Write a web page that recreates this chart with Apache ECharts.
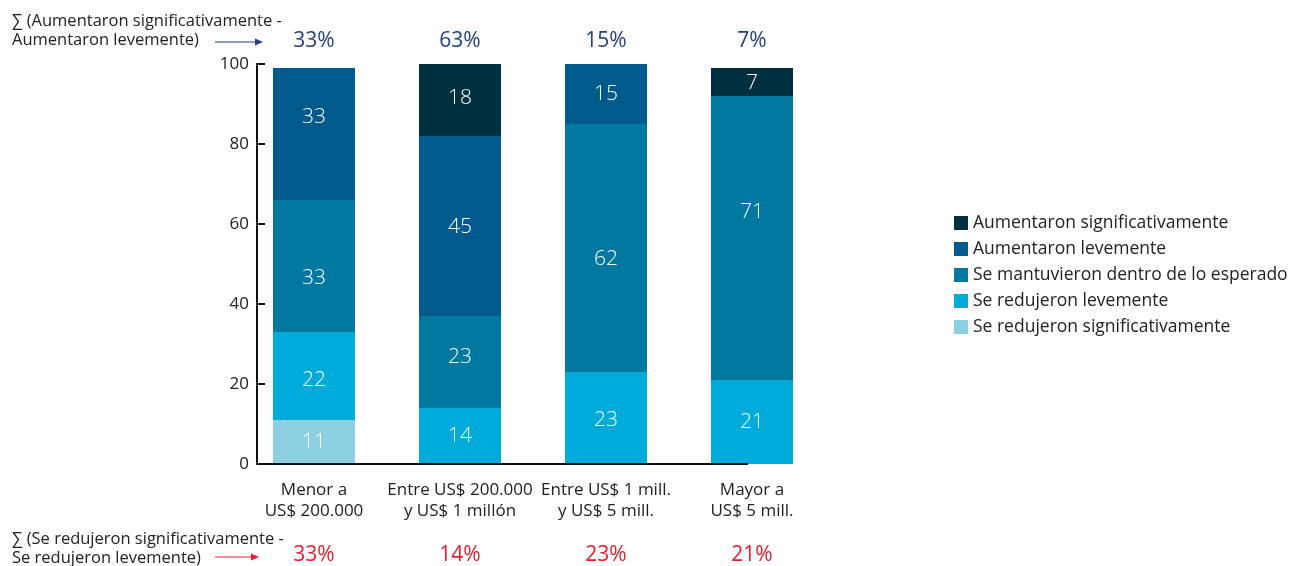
<!DOCTYPE html>
<html><head><meta charset="utf-8">
<script src="https://cdn.jsdelivr.net/npm/echarts@6/dist/echarts.min.js"></script>
<style>html,body{margin:0;padding:0;background:#fff}#c{width:1298px;height:566px}</style>
</head><body><div id="c"></div>
<script>
const categories = ['Menor a\nUS$ 200.000', 'Entre US$ 200.000\ny US$ 1 millón', 'Entre US$ 1 mill.\ny US$ 5 mill.', 'Mayor a\nUS$ 5 mill.'];
const seriesNames = ['Se redujeron significativamente', 'Se redujeron levemente', 'Se mantuvieron dentro de lo esperado', 'Aumentaron levemente', 'Aumentaron significativamente'];
const sigDown = [11, 0, 0, 0];
const levDown = [22, 14, 23, 21];
const same = [33, 23, 62, 71];
const levUp = [33, 45, 15, 0];
const sigUp = [0, 18, 0, 7];
const yTicks = [0, 20, 40, 60, 80, 100];
const colors = ['#8ccfe0', '#00aad9', '#00789f', '#005a8b', '#002f40'];

// label nudges (style only): [seriesIndex][categoryIndex] vertical offset in px
const labelNudge = [[0,0,0,0],[4,0,2,0],[12,-5,11,-26],[-17,1,0,0],[0,-2,0,1]];

const upSum = categories.map((_, i) => levUp[i] + sigUp[i]);
const downSum = categories.map((_, i) => sigDown[i] + levDown[i]);
const values = [sigDown, levDown, same, levUp, sigUp];
const FONT = 'Open Sans';

const chart = echarts.init(document.getElementById('c'), null, {renderer: 'canvas'});
const series = values.map((v, k) => ({
  name: seriesNames[k], type: 'bar', stack: 'a', barWidth: 82, xAxisIndex: 0,
  itemStyle: {color: colors[k]},
  label: {show: true, position: 'inside', color: '#fff', fontSize: 21, fontFamily: FONT, fontWeight: 300,
    formatter: p => p.value > 0 ? p.value : ''},
  data: v.map((x, i) => ({value: x === 0 ? null : x, label: {offset: [0, labelNudge[k][i]]}}))
}));

chart.setOption({
  animation: false,
  textStyle: {fontFamily: FONT},
  color: colors,
  grid: {left: 241, right: 473, top: 64, bottom: 102},
  legend: {
    orient: 'vertical', left: 949, top: 209, itemWidth: 14, itemHeight: 14, itemGap: 8,
    icon: 'rect', data: seriesNames.slice().reverse(),
    textStyle: {fontSize: 17.5, color: '#222', fontFamily: FONT}
  },
  xAxis: [
    {type: 'category', data: categories, position: 'bottom',
      axisLine: {show: false}, axisTick: {show: false},
      axisLabel: {interval: 0, fontSize: 17, lineHeight: 21, color: '#222', margin: 16, fontFamily: FONT}},
    {type: 'category', data: categories, position: 'top', gridIndex: 0,
      axisLine: {show: false}, axisTick: {show: false},
      axisLabel: {interval: 0, fontSize: 21, color: '#233f7c', margin: 12, fontFamily: FONT,
        formatter: (v, i) => upSum[i] + '%'}},
    {type: 'category', data: categories, position: 'bottom', offset: 0, gridIndex: 0,
      axisLine: {show: false}, axisTick: {show: false},
      axisLabel: {interval: 0, fontSize: 21, color: '#e5202e', margin: 81, fontFamily: FONT,
        formatter: (v, i) => downSum[i] + '%'}}
  ],
  yAxis: {
    type: 'value', min: 0, max: 100, interval: 20, offset: -16,
    axisLine: {show: true, lineStyle: {color: '#111', width: 2}},
    axisTick: {show: true, inside: true, length: 8, lineStyle: {color: '#111', width: 2}},
    splitLine: {show: false},
    axisLabel: {fontSize: 17, color: '#222', margin: 8, fontFamily: FONT,
      formatter: v => yTicks.includes(v) ? String(v) : ''}
  },
  graphic: [
    {type: 'line', shape: {x1: 257, y1: 464, x2: 748, y2: 464}, style: {stroke: '#111', lineWidth: 2}, z: 100},
    {type: 'text', left: 12, top: 12, style: {text: '∑ (Aumentaron significativamente -\nAumentaron levemente)', fontSize: 16.5, lineHeight: 19, fill: '#222', fontFamily: FONT}},
    {type: 'line', shape: {x1: 215, y1: 42, x2: 256, y2: 42}, style: {stroke: '#233f7c', lineWidth: 1.2}},
    {type: 'polygon', shape: {points: [[255, 38.5], [263, 42], [255, 45.5]]}, style: {fill: '#233f7c'}},
    {type: 'text', left: 12, top: 530, style: {text: '∑ (Se redujeron significativamente -\nSe redujeron levemente)', fontSize: 16.5, lineHeight: 19, fill: '#222', fontFamily: FONT}},
    {type: 'line', shape: {x1: 215, y1: 557, x2: 252, y2: 557}, style: {stroke: '#e5202e', lineWidth: 1.2}},
    {type: 'polygon', shape: {points: [[251, 553.5], [259, 557], [251, 560.5]]}, style: {fill: '#e5202e'}}
  ],
  series: series
});
</script></body></html>
